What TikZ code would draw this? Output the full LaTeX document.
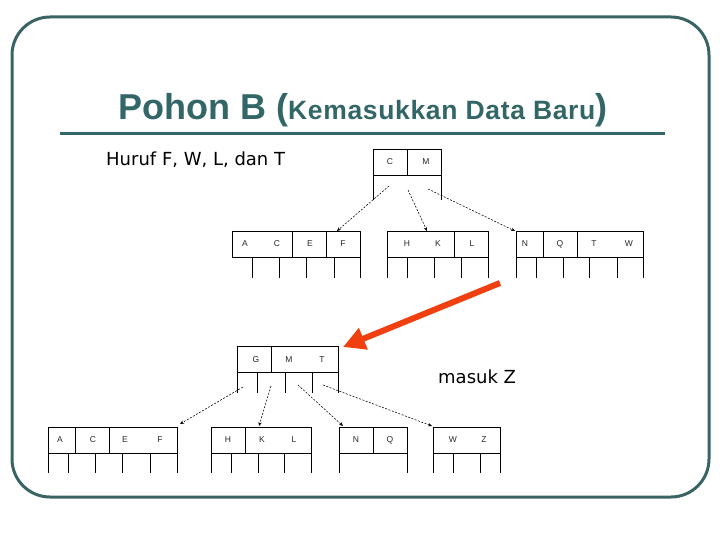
\documentclass[tikz,border=0pt]{standalone}
\usepackage{fontspec}
\setmainfont{Liberation Sans}
\newfontfamily\dejavu{DejaVu Sans}
\newfontfamily\titlespaced[LetterSpace=2.5]{Liberation Sans}
\usetikzlibrary{arrows.meta}
\definecolor{teal1}{RGB}{58,100,100}
\definecolor{titlec}{RGB}{51,102,102}
\definecolor{redarr}{RGB}{240,64,16}
\tikzset{
  key/.style={font=\fontsize{8.5}{9}\selectfont, text=black!85, inner sep=0pt},
  boxline/.style={line width=0.6pt, black},
  dasharrow/.style={line width=0.55pt, dash pattern=on 2pt off 1.5pt, -{Stealth[length=4pt,width=3.5pt]}},
}
\begin{document}
\begin{tikzpicture}[x=1pt,y=-1pt]
\useasboundingbox (0,0) rectangle (720,540);
% frame
\draw[teal1, line width=3pt, rounded corners=38pt] (12,17) rectangle (709,497);
% title
\node[anchor=base west, inner sep=0pt, text=titlec] (title) at (118,120)
  {{\fontsize{36}{40}\selectfont\bfseries Pohon B (}{\titlespaced\bfseries\fontsize{26.5}{30}\selectfont Kemasukkan Data Baru}{\fontsize{36}{40}\selectfont\bfseries )}};
\draw[titlec, line width=3pt] (60,134) -- (665,134);
% texts
\node[anchor=base west, inner sep=0pt, font=\dejavu\fontsize{18}{20}\selectfont] (huruf) at (106,166) {Huruf F, W, L, dan T};
\node[anchor=base west, inner sep=0pt, font=\dejavu\fontsize{18}{20}\selectfont] (masuk) at (438,383) {masuk Z};

% ---------- top tree ----------
% root 1
\draw[boxline] (373,149) rectangle (441,175);
\draw[boxline] (407,149) -- (407,175);
\foreach \x in {373,441} \draw[boxline] (\x,175) -- (\x,200);
\node[key] (r1C) at (390,162) {C};
\node[key] (r1M) at (426,162) {M};
% leaf 1
\draw[boxline] (232,231) rectangle (360,257);
\foreach \x in {292,326} \draw[boxline] (\x,231) -- (\x,257);
\foreach \x in {252,279,306,334,360} \draw[boxline] (\x,257) -- (\x,278);
\node[key] (a1) at (245,244) {A};
\node[key] (c1) at (277,244) {C};
\node[key] (e1) at (310,244) {E};
\node[key] (f1) at (343,244) {F};
% leaf 2
\draw[boxline] (387,231) rectangle (488,257);
\draw[boxline] (454,231) -- (454,257);
\foreach \x in {387,407,434,461,488} \draw[boxline] (\x,257) -- (\x,278);
\node[key] (h1) at (407,244) {H};
\node[key] (k1) at (438,244) {K};
\node[key] (l1) at (472,244) {L};
% leaf 3
\draw[boxline] (516,231) rectangle (643,257);
\foreach \x in {543,577} \draw[boxline] (\x,231) -- (\x,257);
\foreach \x in {516,536,563,589,617,643} \draw[boxline] (\x,257) -- (\x,278);
\node[key] (n1) at (525,244) {N};
\node[key] (q1) at (560,244) {Q};
\node[key] (t1) at (594,244) {T};
\node[key] (w1) at (629,244) {W};
% arrows
\coordinate (r1s1) at (389,186); \coordinate (l1t) at (337,231);
\coordinate (r1s2) at (408,190); \coordinate (l2t) at (427,231);
\coordinate (r1s3) at (428,189); \coordinate (l3t) at (515,231);
\draw[dasharrow] (r1s1) -- (l1t);
\draw[dasharrow] (r1s2) -- (l2t);
\draw[dasharrow] (r1s3) -- (l3t);

% red arrow
\coordinate (redS) at (500,283); \coordinate (redE) at (343,347);
\draw[redarr, line width=6pt, -{Triangle[length=22pt,width=22pt]}] (redS) -- (redE);

% ---------- bottom tree ----------
% root 2
\draw[boxline] (237,346) rectangle (338,372);
\draw[boxline] (271,346) -- (271,372);
\foreach \x in {237,257,285,312,338} \draw[boxline] (\x,372) -- (\x,393);
\node[key] (r2G) at (256,360) {G};
\node[key] (r2M) at (289,360) {M};
\node[key] (r2T) at (322,360) {T};
% leaf M1
\draw[boxline] (48,427) rectangle (177,453);
\foreach \x in {75,109} \draw[boxline] (\x,427) -- (\x,453);
\foreach \x in {48,68,95,122,150,177} \draw[boxline] (\x,453) -- (\x,473);
\node[key] (a2) at (60,440) {A};
\node[key] (c2) at (93,440) {C};
\node[key] (e2) at (125,440) {E};
\node[key] (f2) at (160,440) {F};
% leaf M2
\draw[boxline] (211,427) rectangle (311,453);
\draw[boxline] (245,427) -- (245,453);
\foreach \x in {211,231,258,284,311} \draw[boxline] (\x,453) -- (\x,473);
\node[key] (h2) at (228,440) {H};
\node[key] (k2) at (262,440) {K};
\node[key] (l2) at (294,440) {L};
% leaf M3
\draw[boxline] (339,427) rectangle (407,453);
\draw[boxline] (373,427) -- (373,453);
\foreach \x in {339,407} \draw[boxline] (\x,453) -- (\x,473);
\node[key] (n2) at (356,440) {N};
\node[key] (q2) at (390,440) {Q};
% leaf M4
\draw[boxline] (433,427) rectangle (500,453);
\foreach \x in {433,453,480,500} \draw[boxline] (\x,453) -- (\x,473);
\node[key] (w2) at (453,440) {W};
\node[key] (z2) at (484,440) {Z};
% arrows
\coordinate (r2s1) at (243,387); \coordinate (m1t) at (180,424);
\coordinate (r2s2) at (271,386); \coordinate (m2t) at (259,426);
\coordinate (r2s3) at (298,385); \coordinate (m3t) at (343,426);
\coordinate (r2s4) at (323,385); \coordinate (m4t) at (432,426);
\draw[dasharrow] (r2s1) -- (m1t);
\draw[dasharrow] (r2s2) -- (m2t);
\draw[dasharrow] (r2s3) -- (m3t);
\draw[dasharrow] (r2s4) -- (m4t);
\end{tikzpicture}
\end{document}
